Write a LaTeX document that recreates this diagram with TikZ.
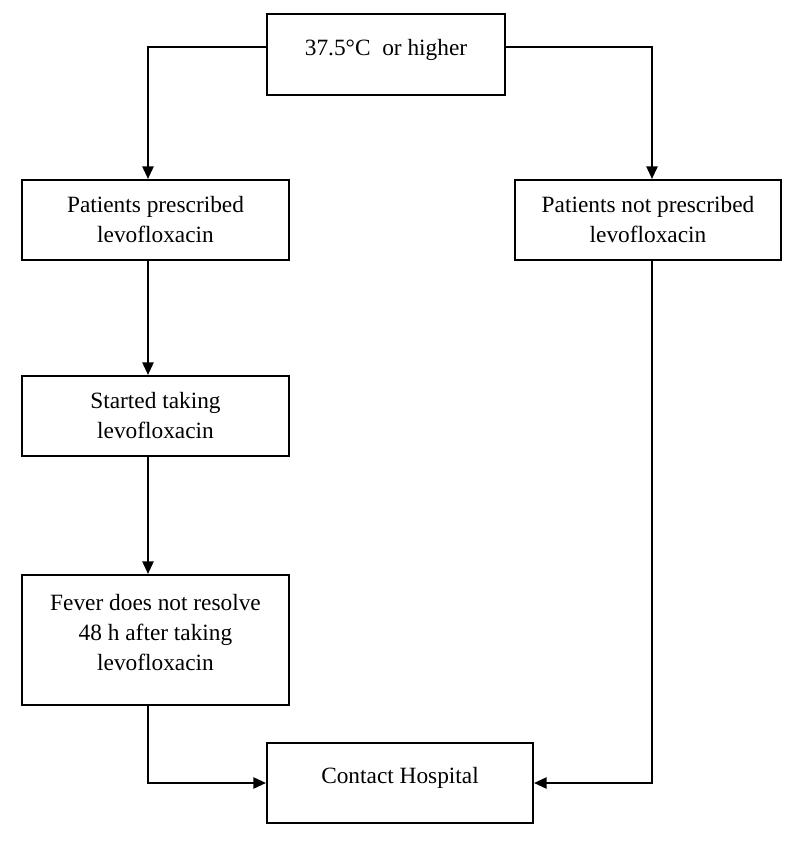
\documentclass[tikz,border=0pt]{standalone}
\usepackage{fontspec}
\setmainfont{Liberation Serif}
\usetikzlibrary{arrows.meta}
\begin{document}
\begin{tikzpicture}[x=0.75pt,y=-0.75pt,
  box/.style={draw,line width=1.6pt,align=center,inner sep=0pt,
    font=\fontsize{17.5}{22.5}\selectfont,minimum height=60pt},
  arr/.style={line width=1.3pt,-{Triangle[length=9.5pt,width=8.5pt]}}]
\useasboundingbox (0,0) rectangle (800,841);

% boxes
\node[box,minimum width=178.5pt,minimum height=60.75pt,text depth=11pt] (fever) at (386,54.5) {37.5°C\enspace or higher};
\node[box,minimum width=200.25pt] (presc) at (155.5,220) {Patients prescribed\\levofloxacin};
\node[box,minimum width=199.5pt] (noPresc) at (648,220) {Patients not prescribed\\levofloxacin};
\node[box,minimum width=200.25pt] (started) at (155.5,416) {Started taking\\levofloxacin};
\node[box,minimum width=200.25pt,minimum height=97.5pt,text depth=12pt] (noResolve) at (155.5,640) {Fever does not resolve\\48 h after taking\\levofloxacin};
\node[box,minimum width=199.5pt,text depth=12pt] (contact) at (400,783) {Contact Hospital};

% columns of the connectors
\coordinate (lcol) at (148,0);
\coordinate (rcol) at (652,0);

% arrows
\draw[arr] ([yshift=5.6pt]fever.west) -| (lcol |- presc.north);
\draw[arr] ([yshift=5.6pt]fever.east) -| (rcol |- noPresc.north);
\draw[arr] (lcol |- presc.south) -- (lcol |- started.north);
\draw[arr] (lcol |- started.south) -- (lcol |- noResolve.north);
\draw[arr] (lcol |- noResolve.south) |- (contact.west);
\draw[arr] (rcol |- noPresc.south) |- (contact.east);

\end{tikzpicture}
\end{document}
